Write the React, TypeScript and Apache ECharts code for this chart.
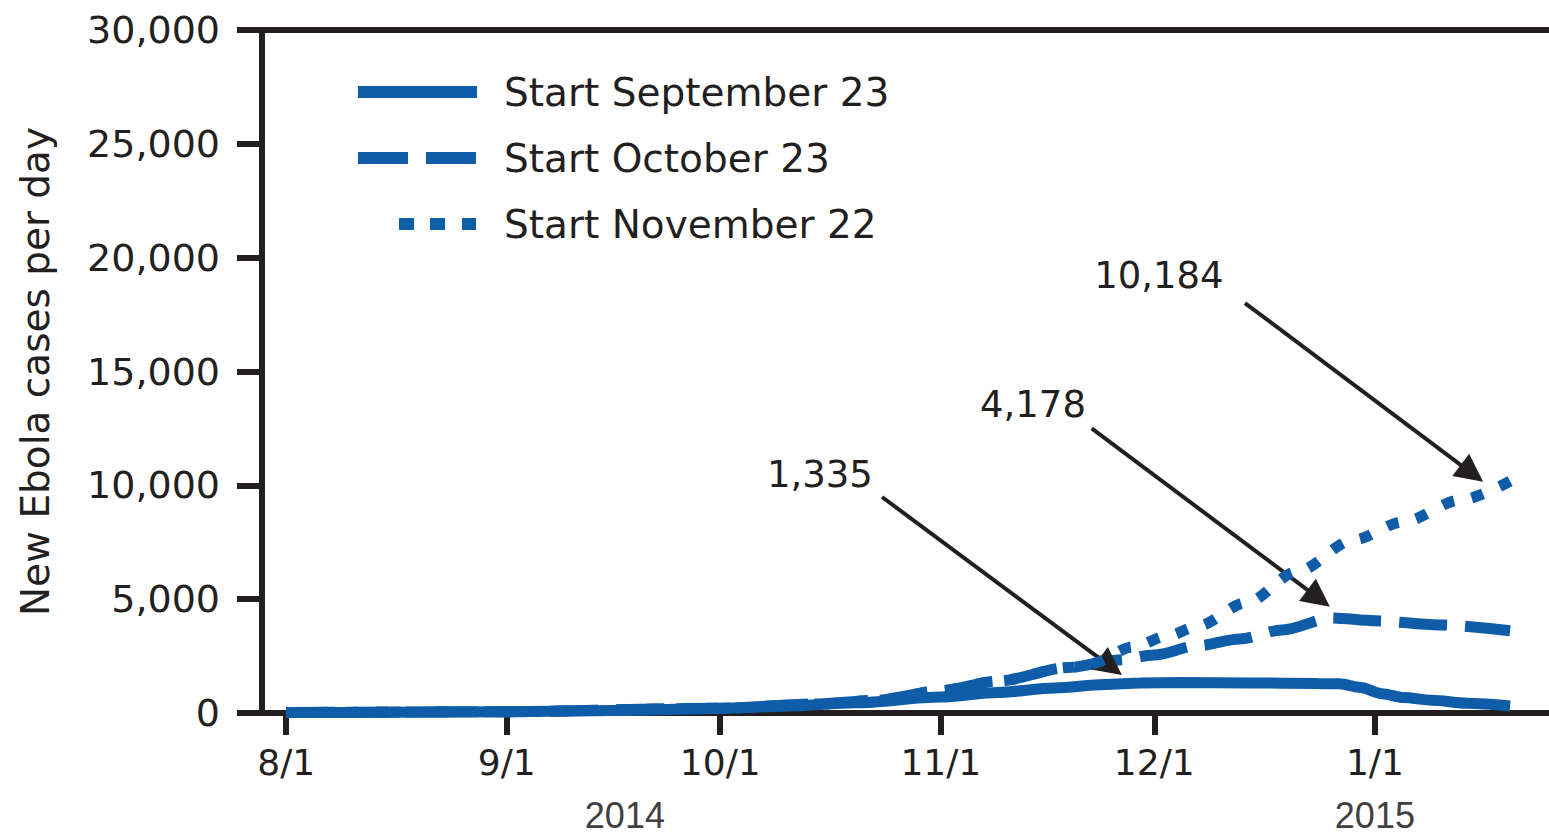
import React, { useEffect, useRef } from 'react';
import * as echarts from 'echarts';

// ---------- data ----------
const BASE = Date.UTC(2014, 7, 1);
const dayOf = (s: string) => (Date.parse(s + 'T00:00:00Z') - BASE) / 86400000;

const seriesNames = ['Start September 23', 'Start October 23', 'Start November 22'];

const xTickDates = ['2014-08-01', '2014-09-01', '2014-10-01', '2014-11-01', '2014-12-01', '2015-01-01'];
const xTickLabels = ['8/1', '9/1', '10/1', '11/1', '12/1', '1/1'];
const yearLabels = ['2014', '2015'];
const yTitle = 'New Ebola cases per day';

const sepDates = ['2014-08-01', '2014-08-16', '2014-09-01', '2014-09-16', '2014-10-01', '2014-10-10', '2014-10-20', '2014-11-01', '2014-11-09', '2014-11-17', '2014-11-24', '2014-11-29', '2014-12-05', '2014-12-14', '2014-12-24', '2014-12-27', '2014-12-30', '2015-01-02', '2015-01-05', '2015-01-09', '2015-01-14', '2015-01-20'];
const sepValues = [20, 30, 60, 110, 200, 300, 450, 700, 900, 1100, 1250, 1320, 1335, 1320, 1300, 1280, 1120, 850, 680, 560, 430, 310];

const octDates = ['2014-08-01', '2014-09-01', '2014-10-01', '2014-10-15', '2014-10-23', '2014-11-01', '2014-11-09', '2014-11-19', '2014-11-26', '2014-12-01', '2014-12-07', '2014-12-13', '2014-12-19', '2014-12-26', '2015-01-01', '2015-01-10', '2015-01-20'];
const octValues = [20, 60, 210, 400, 560, 980, 1400, 2000, 2330, 2550, 2950, 3250, 3650, 4178, 4050, 3870, 3610];

const novDates = ['2014-08-01', '2014-09-01', '2014-10-01', '2014-10-15', '2014-10-23', '2014-11-01', '2014-11-09', '2014-11-19', '2014-11-22', '2014-11-28', '2014-12-03', '2014-12-07', '2014-12-14', '2014-12-21', '2014-12-29', '2015-01-05', '2015-01-13', '2015-01-20'];
const novValues = [20, 60, 210, 400, 560, 980, 1400, 2000, 2150, 2900, 3400, 3800, 4850, 6200, 7600, 8400, 9350, 10184];

const calloutTexts = ['1,335', '4,178', '10,184'];

// ---------- styling ----------
const BLUE = '#0f5ca8';
const INK = '#231f20';
const FONT = 'DejaVu Sans';

const X_MIN = -3.4;
const X_MAX = 180;

// annotation anchors in data space (day offset from 8/1, value)
const calloutAnchors = [[75.0, 10497], [104.95, 13571], [122.65, 19215]];
const arrowFrom = [[83.74, 9487], [113.2, 12504], [134.74, 18007]];
const arrowTo = [[115.87, 2034], [145.1, 5038], [166.64, 10528]];
const yearLabelDays = [47.6, 153];

const legendIcons = [
  'path://M0,0H119V12H0ZM141,0L141,12Z',
  'path://M0,0H50V12H0ZM68,0H118V12H68ZM141,0L141,12Z',
  'path://M41,0H56V12H41ZM72,0H87V12H72ZM104,0H118V12H104ZM0,0L0,12ZM141,0L141,12Z',
];

const toPairs = (dates: string[], vals: number[]) => dates.map((d, i) => [dayOf(d), vals[i]]);

export default function App() {
  const ref = useRef<HTMLDivElement>(null);
  useEffect(() => {
    if (!ref.current) return;
    const chart = echarts.init(ref.current, undefined, { renderer: 'svg' });
    const tickDays = xTickDates.map(dayOf);
    const lineBase = {
      type: 'line',
      symbol: 'none',
      showSymbol: false,
      smooth: 0.3,
      smoothMonotone: 'x',
      clip: false,
      silent: true,
      itemStyle: { color: BLUE },
    };
    const option: any = {
      animation: false,
      backgroundColor: '#ffffff',
      grid: { left: 262, top: 30, right: 33, bottom: 125, containLabel: false },
      legend: {
        show: true,
        orient: 'vertical',
        left: 358,
        top: 72,
        padding: 0,
        itemGap: 26,
        itemWidth: 141,
        itemHeight: 12,
        selectedMode: false,
        itemStyle: { borderWidth: 0 },
        textStyle: { fontSize: 39, fontFamily: FONT, color: INK, lineHeight: 40 },
        data: seriesNames.map((n, i) => ({ name: n, icon: legendIcons[i] })),
      },
      xAxis: [
        {
          type: 'value',
          min: X_MIN,
          max: X_MAX,
          position: 'bottom',
          axisLine: { show: true, onZero: false, lineStyle: { color: INK, width: 6 } },
          axisTick: { show: true, length: 22, inside: false, lineStyle: { color: INK, width: 6 }, customValues: tickDays },
          axisLabel: {
            show: true,
            customValues: tickDays,
            margin: 31,
            fontSize: 36,
            fontFamily: FONT,
            color: INK,
            formatter: (v: number) => {
              const i = tickDays.findIndex((d) => Math.abs(d - v) < 0.01);
              return i >= 0 ? xTickLabels[i] : '';
            },
          },
          splitLine: { show: false },
        },
        {
          type: 'value',
          min: X_MIN,
          max: X_MAX,
          position: 'bottom',
          axisLine: { show: false, onZero: false },
          axisTick: { show: false },
          axisLabel: {
            show: true,
            customValues: yearLabelDays,
            margin: 84,
            fontSize: 36,
            lineHeight: 36,
            fontFamily: 'Liberation Sans',
            color: '#404040',
            formatter: (v: number) => {
              const i = yearLabelDays.findIndex((d) => Math.abs(d - v) < 0.01);
              return i >= 0 ? yearLabels[i] : '';
            },
          },
          splitLine: { show: false },
        },
        {
          type: 'value',
          min: X_MIN,
          max: X_MAX,
          position: 'top',
          axisLine: { show: true, onZero: false, lineStyle: { color: INK, width: 6 } },
          axisTick: { show: false },
          axisLabel: { show: false },
          splitLine: { show: false },
        },
      ],
      yAxis: {
        type: 'value',
        min: 0,
        max: 30000,
        interval: 5000,
        position: 'left',
        name: yTitle,
        nameLocation: 'middle',
        nameGap: 207,
        nameTextStyle: { fontSize: 39, fontFamily: FONT, color: INK },
        axisLine: { show: true, onZero: false, lineStyle: { color: INK, width: 6 } },
        axisTick: { show: true, length: 25, inside: false, lineStyle: { color: INK, width: 6 } },
        axisLabel: {
          margin: 42,
          fontSize: 38,
          fontFamily: FONT,
          color: INK,
          formatter: (v: number) => v.toLocaleString('en-US'),
        },
        splitLine: { show: false },
      },
      series: [
        {
          ...lineBase,
          name: seriesNames[0],
          z: 3,
          data: toPairs(sepDates, sepValues),
          lineStyle: { color: BLUE, width: 11, type: 'solid', cap: 'butt' },
        },
        {
          ...lineBase,
          name: seriesNames[1],
          z: 4,
          data: toPairs(octDates, octValues),
          lineStyle: { color: BLUE, width: 11, type: [48, 18], cap: 'butt' },
        },
        {
          ...lineBase,
          name: seriesNames[2],
          z: 5,
          data: toPairs(novDates, novValues),
          lineStyle: { color: BLUE, width: 11, type: [12, 18], cap: 'butt' },
        },
        {
          type: 'line',
          name: 'annotations',
          data: [],
          z: 10,
          silent: true,
          markLine: {
            silent: true,
            symbol: ['none', 'triangle'],
            symbolSize: 28,
            label: { show: false },
            lineStyle: { color: INK, width: 4, type: 'solid' },
            emphasis: { disabled: true },
            data: arrowFrom.map((f, i) => [{ coord: f }, { coord: arrowTo[i] }]),
          },
          markPoint: {
            silent: true,
            symbol: 'circle',
            symbolSize: 1,
            itemStyle: { color: 'rgba(0,0,0,0)' },
            label: {
              show: true,
              position: 'inside',
              formatter: '{b}',
              fontSize: 37,
              fontFamily: FONT,
              color: INK,
            },
            data: calloutAnchors.map((c, i) => ({ name: calloutTexts[i], coord: c })),
          },
        },
      ],
    };
    chart.setOption(option);
    return () => chart.dispose();
  }, []);

  return (
    <div style={{ position: 'fixed', left: 0, top: 0, width: 1549, height: 838, overflow: 'hidden', background: '#fff' }}>
      <div ref={ref} style={{ width: 1600, height: 838 }} />
    </div>
  );
}
